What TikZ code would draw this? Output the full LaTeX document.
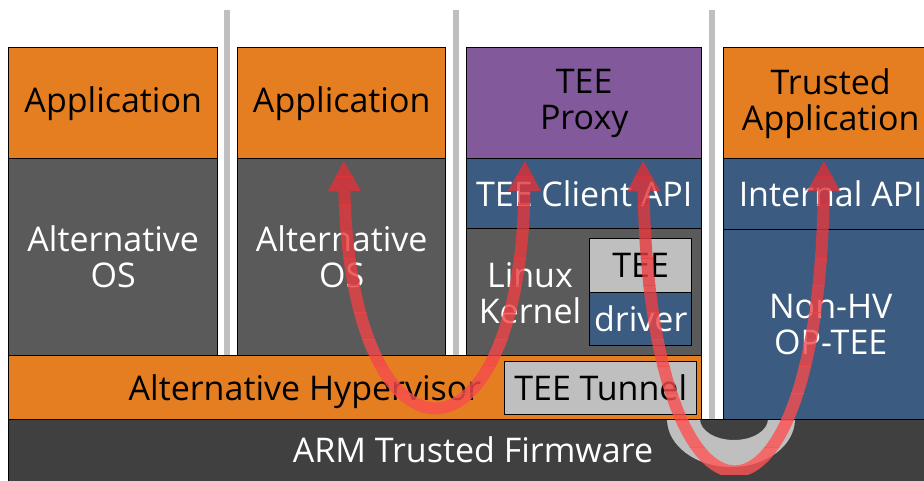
\documentclass[tikz,border=0pt]{standalone}
\usepackage{fontspec}
\setmainfont{Open Sans}
\usetikzlibrary{arrows.meta,calc}

\definecolor{userorange}{RGB}{229,126,32}
\definecolor{osgrey}{RGB}{90,90,90}
\definecolor{fwgrey}{RGB}{64,64,64}
\definecolor{apiblue}{RGB}{59,91,128}
\definecolor{proxypurple}{RGB}{130,90,155}
\definecolor{tunnelgrey}{RGB}{191,191,191}
\definecolor{flowhigh}{RGB}{222,48,54}
\definecolor{flowlow}{RGB}{255,85,85}
\newcommand\layerfont{\fontsize{25.5}{27}\selectfont}

\begin{document}
\begin{tikzpicture}[x=0.75pt,y=-0.75pt,
  wall/.style={draw=tunnelgrey, line width=4.5pt},
  boxsize/.style 2 args={minimum width=#1*0.75pt, minimum height=#2*0.75pt},
  layer/.style={draw=black, line width=1.1pt, anchor=north west, inner sep=0pt, align=center, font=\layerfont},
  userbox/.style={layer, fill=userorange, text=black},
  osbox/.style={layer, fill=osgrey, text=white},
  apibox/.style={layer, fill=apiblue, text=white},
  proxybox/.style={layer, fill=proxypurple, text=black},
  tunnelbox/.style={layer, fill=tunnelgrey, text=black},
  fwbox/.style={layer, fill=fwgrey, text=white},
  tag/.style={inner sep=0pt, align=center, font=\layerfont},
  flow/.style={draw=flowred, line width=9pt, {Triangle[width=23pt,length=23pt]}-{Triangle[width=23pt,length=23pt]}}]
  \useasboundingbox (0,0) rectangle (924,481);
  \clip (0,0) rectangle (924,481);

  % partition walls
  \draw[wall] (227,10) -- (227,355);
  \draw[wall] (456,10) -- (456,355);
  \draw[wall] (712,10) -- (712,419);

  % firmware and hypervisor
  \node[fwbox, boxsize={940}{80}] (atf) at (8,419) {};
  \node[tag, text=white, anchor=base] (atflabel) at (473,462) {ARM Trusted Firmware};
  \fill[tunnelgrey] (667,419) arc[start angle=180, end angle=0, x radius=64, y radius=48]
    -- (768,419) arc[start angle=0, end angle=180, x radius=34, y radius=21] -- cycle;
  \node[userbox, boxsize={693}{64}] (hyp) at (8,355) {};
  \node[tag, anchor=base] (hyplabel) at (305,400) {Alternative Hypervisor};
  \node[tunnelbox, boxsize={192}{53}] (tunnel) at (504,361) {TEE Tunnel};

  % guest 1
  \node[userbox, boxsize={209}{111}] (app1) at (8,47) {Application};
  \node[osbox, boxsize={209}{197}] (os1) at (8,158) {Alternative\\OS};
  % guest 2
  \node[userbox, boxsize={208}{111}] (app2) at (237,47) {Application};
  \node[osbox, boxsize={208}{197}] (os2) at (237,158) {Alternative\\OS};
  % linux guest
  \node[proxybox, boxsize={235}{111}] (proxy) at (466,47) {TEE\\Proxy};
  \node[apibox, boxsize={235}{70}] (client) at (466,158) {TEE Client API};
  \node[osbox, boxsize={235}{127}] (kernel) at (466,228) {};
  \node[tag, text=white] (kernellabel) at (530,293) {Linux\\Kernel};
  \node[tunnelbox, boxsize={102}{54}] (teedev) at (589,238) {TEE};
  \node[apibox, boxsize={102}{53}] (driver) at (589,292) {driver};
  % secure side
  \node[userbox, boxsize={214}{111}] (ta) at (723,47) {Trusted\\Application};
  \node[apibox, boxsize={214}{71}] (internal) at (723,158) {Internal API};
  \node[apibox, boxsize={214}{190}] (optee) at (723,229) {Non-HV\\OP-TEE};

  % call paths
  \coordinate (osin) at ($(app2.south)+(2,1)$);
  \coordinate (proxyin) at ($(proxy.south west)+(59,1)$);
  \coordinate (proxyout) at ($(proxy.south west)+(177,1)$);
  \coordinate (tain) at ($(ta.south west)+(101,1)$);
  \foreach \i in {0,...,11} {
    \pgfmathsetmacro\ya{150+\i*27}
    \pgfmathsetmacro\yb{\ya+27}
    \pgfmathtruncatemacro\mixpct{100*\i/11}
    \colorlet{flowred}{flowlow!\mixpct!flowhigh}
    \begin{scope}
      \clip (0,\ya) rectangle (924,\yb);
      \begin{scope}[transparency group, opacity=0.8]
        \draw[flow] (osin) .. controls ($(osin)+(7,321)$) and ($(proxyin)+(-5,321)$) .. (proxyin);
        \draw[flow] (proxyout) .. controls ($(proxyout)+(7,405)$) and ($(tain)+(-4,405)$) .. (tain);
      \end{scope}
    \end{scope}
  }
\end{tikzpicture}
\end{document}
